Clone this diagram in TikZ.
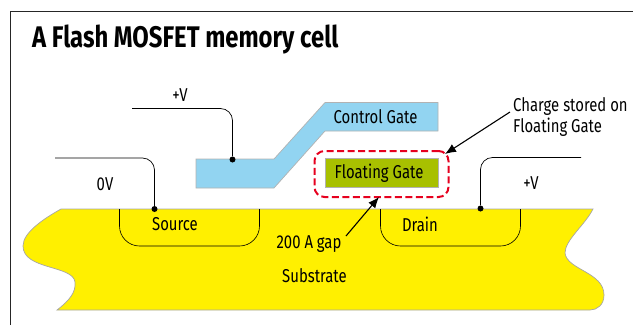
\documentclass[tikz,border=0pt]{standalone}
\usepackage{fontspec}
\setmainfont[FakeStretch=0.8]{Fira Sans}
\usetikzlibrary{arrows.meta}
\definecolor{substratefill}{RGB}{255,240,0}
\definecolor{gatefill}{RGB}{146,212,241}
\definecolor{floatfill}{RGB}{168,192,0}
\definecolor{chargered}{RGB}{230,0,30}
\begin{document}
\begin{tikzpicture}[x=1pt, y=-1pt,
    lbl/.style={inner sep=0pt, font=\fontsize{18.6}{21}\selectfont, text=black},
    wire/.style={draw=black, line width=0.7pt, rounded corners=12pt},
    well/.style={draw=black, line width=0.6pt, rounded corners=20pt},
    pin/.style={circle, fill=black, inner sep=0pt, minimum size=6pt},
    pointer/.style={-{Latex[length=11pt,width=9pt]}, line width=1.1pt}]
    \useasboundingbox (0,0) rectangle (633,325);
    %frame
    \coordinate (cornerA) at (10.5,325);
    \coordinate (cornerB) at (10.5,11);
    \coordinate (cornerC) at (633,11);
    \draw[line width=1pt, black!85] (cornerA) -- (cornerB) -- (cornerC);
    \node[anchor=west, inner sep=0pt, font=\fontsize{29.8}{34}\bfseries\selectfont] (title) at (32,39) {A Flash MOSFET memory cell};
    %substrate
    \draw[fill=substratefill, draw=black!35, line width=0.7pt]
        (61,209) -- (593,209)
        .. controls (585,225) and (565,240) .. (565,253)
        .. controls (567,270) and (604,272) .. (604,295)
        .. controls (604,305) and (597,310) .. (590,310)
        -- (57,310)
        .. controls (70,300) and (76,292) .. (75,282)
        .. controls (73,265) and (23,270) .. (23,246)
        .. controls (23,232) and (45,218) .. (61,209) -- cycle;
    %gates
    \draw[fill=gatefill, draw=black!30, line width=0.7pt]
        (196,159) -- (274,159) -- (325,102.5) -- (438,102.5) -- (438,131) -- (325,131) -- (274,188) -- (196,188) -- cycle;
    \node[draw=black!30, fill=floatfill, line width=0.7pt, minimum width=113pt, minimum height=29pt, inner sep=0pt] (floating) at (381.5,173) {};
    \node[draw=chargered, line width=2pt, rounded corners=10pt, dash pattern=on 7pt off 3.5pt, minimum width=134pt, minimum height=46pt, inner sep=0pt] (chargebox) at (381.5,174) {};
    \node[lbl] (floatlabel) at (379,173) {Floating Gate};
    \node[lbl] (control) at (375.5,117) {Control Gate};
    %wells
    \draw[well] (119.5,209) -- (119.5,246) -- (259.5,246) -- (259.5,209);
    \draw[well] (380.5,209) -- (380.5,246) -- (520.5,246) -- (520.5,209);
    \node[lbl] (source) at (175,224.5) {Source};
    \node[lbl] (drain) at (420,224.5) {Drain};
    %terminals
    \node[pin] (pingate) at (232.5,159.5) {};
    \node[pin] (pinsource) at (154.5,209) {};
    \node[pin] (pindrain) at (480.5,208.5) {};
    \coordinate (endgate) at (132,108.5);
    \coordinate (endsource) at (55,158);
    \coordinate (enddrain) at (581,157.5);
    \draw[wire] (endgate) -| (pingate);
    \draw[wire] (endsource) -| (pinsource);
    \draw[wire] (enddrain) -| (pindrain);
    \node[lbl] (vgate) at (180,95) {+V};
    \node[lbl] (vsource) at (105,184) {0V};
    \node[lbl] (vdrain) at (531,183) {+V};
    %callouts
    \node[lbl, align=left, anchor=north west] (charge) at (513,97) {Charge stored on\\Floating Gate};
    \node[lbl] (gap) at (309,244) {200 A gap};
    \node[lbl] (substrate) at (314.5,276) {Substrate};
    \coordinate (chargetail) at (510,112);
    \coordinate (chargetip) at (445,154);
    \coordinate (gaptail) at (346,236);
    \coordinate (gaptip) at (379,197);
    \draw[pointer] (chargetail) -- (chargetip);
    \draw[pointer] (gaptail) -- (gaptip);
\end{tikzpicture}
\end{document}
